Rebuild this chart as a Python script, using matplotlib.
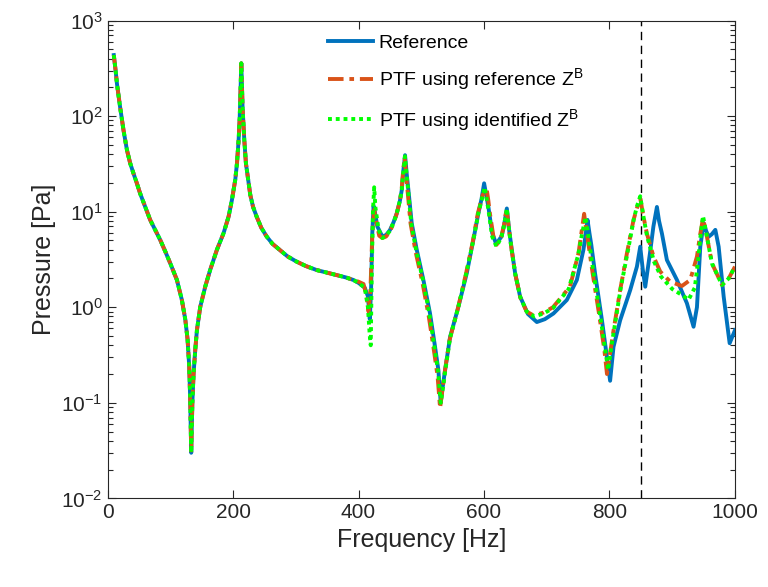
import matplotlib
matplotlib.use("Agg")
import matplotlib.pyplot as plt

# ── Estilo tipo MATLAB ────────────────────────────────────────────
plt.rcParams["font.family"] = ["Liberation Sans", "DejaVu Sans"]
plt.rcParams["mathtext.fontset"] = "custom"
plt.rcParams["mathtext.rm"] = "Liberation Sans"
plt.rcParams["mathtext.it"] = "Liberation Sans"

COLOR_REF = "#0072BD"
COLOR_PTF_REF = "#D95319"
COLOR_PTF_ID = "#00FF00"
AX_COLOR = "#262626"

# ── Datos ────────────────────────────────────────────────────────
# tramo común a las tres curvas (10-392 Hz)
common_freq = [10, 12.8, 15, 20, 25.5, 31, 36.2, 41.5, 46.8, 52, 60, 68, 76,
               84, 92, 100, 110.6, 118.5, 124, 127.6, 130.2, 131.8, 133.4,
               135.2, 137.2, 139.8, 142.5, 147.8, 155.8, 163.7, 174.4, 185,
               193, 198.3, 203.6, 206.3, 208.9, 210.5, 211.6, 213.2, 214.3,
               215.3, 218, 220.6, 224.9, 227.5, 232, 237.6, 245, 253.6, 263,
               274.8, 287, 301.4, 316, 333.3, 350, 365.2, 380, 391.7]
common_p = [435, 304, 219, 125, 71, 44, 32, 25, 19.8, 15.5, 11.3, 8.2, 6.46,
            5.06, 3.84, 2.88, 1.93, 1.19, 0.74, 0.46, 0.24, 0.107, 0.03,
            0.1, 0.204, 0.357, 0.578, 1.01, 1.65, 2.47, 4.0, 5.97,
            8.9, 13.3, 21.6, 32, 56, 90, 150, 357, 200,
            120, 56, 32, 20, 15, 11.2, 8.9, 6.8, 5.5, 4.6,
            3.97, 3.4, 3.0, 2.7, 2.45, 2.3, 2.17, 2.05, 1.93]

ref_freq = [400, 410, 415, 418, 420, 422, 424, 426, 430, 438, 444, 450, 456,
            461, 466, 469, 471.5, 474.2, 476.8, 479.5, 484.8, 492.8, 503.4,
            514, 522, 527.3, 531, 535, 538, 546, 559, 572.5, 583, 591, 596,
            600.2, 603.5, 607, 613, 619.3, 628, 632, 636.4, 640, 644.3,
            649.6, 657.6, 670, 684.2, 697, 710.7, 732, 748, 758.5, 762, 765,
            768, 771, 777, 788, 796, 801, 806.4, 817, 833, 843.7, 849, 853,
            857, 864.5, 870, 875.6, 879, 883.6, 891.5, 907.5, 923.4, 934,
            939.4, 944.7, 950, 954, 958, 963, 968.7, 974, 982, 991.5, 1000]
ref_p = [1.8, 1.6, 1.3, 0.75, 1.5, 6, 11.5, 10, 7, 5.5, 5.7, 6.4, 7.8,
         9.6, 13, 16.9, 27, 39, 25, 16.9, 7.6, 4.0, 1.93,
         0.86, 0.385, 0.22, 0.1, 0.16, 0.22, 0.49, 1.0, 2.26, 5.06, 9.6, 13.5,
         19.8, 15, 11.2, 6, 4.6, 5.5, 7.2, 10.8, 6.5, 4.0,
         2.27, 1.29, 0.85, 0.70, 0.75, 0.86, 1.19, 1.93, 4.0, 5.8, 8.2,
         6, 4.5, 2.26, 0.73, 0.30, 0.17, 0.385, 0.73, 1.51, 2.66, 4.3, 2.5,
         1.64, 3.67, 7, 11.2, 8, 5.9, 3.12, 1.93, 1.1, 0.625,
         1.0, 4.3, 7.6, 6.3, 5.47, 5.8, 6.45, 4.3, 1.29, 0.42, 0.575]

ptf_ref_freq = [400, 408, 413, 416, 419, 422, 425, 428, 433, 438, 444, 450,
                456, 461, 466, 469, 471, 473.5, 476, 478, 483, 491, 502, 512,
                520, 526, 530, 534, 537, 545, 558, 571, 582, 590, 594, 598,
                604.4, 607, 609, 615, 620, 628, 632, 636, 640, 644, 650, 658,
                668, 679, 695, 710, 737, 750.6, 756, 759.6, 763, 766, 773,
                784, 792, 796, 800, 806.4, 817, 827.8, 838.3, 844, 849, 854,
                859.6, 870.2, 880.9, 896.8, 915.5, 928.7, 939.4, 944, 949,
                952, 955.3, 963.3, 979.3, 990, 1000]
ptf_ref_p = [1.85, 1.75, 1.3, 0.9, 1.5, 6, 10.5, 8, 5.6, 5.3, 5.5, 6.2,
             7.6, 9.6, 13, 18, 26, 37, 24, 17, 7.5, 3.8, 1.8, 0.8,
             0.36, 0.19, 0.088, 0.14, 0.2, 0.45, 0.95, 2.2, 4.8, 9.5, 12, 15,
             17, 13, 10, 5.5, 4.5, 5.6, 7.3, 10.8, 6.4, 4.0, 2.2, 1.25,
             0.9, 0.82, 0.88, 1.0, 1.64, 3.67, 6.5, 9.5, 6.5, 4.8, 2.3,
             0.8, 0.35, 0.20, 0.3, 0.57, 1.51, 3.67, 8.2, 11, 13.8, 9,
             5.9, 3.39, 2.36, 1.85, 1.67, 1.93, 3.39, 5.5, 8.5,
             7, 5.47, 2.88, 1.71, 2.0, 2.66]

ptf_id_freq = [400, 410, 415, 418, 419.5, 421, 423, 425, 427, 432, 438, 444,
               450, 456, 461, 466, 469, 471.5, 474, 476.5, 479, 484, 492, 503,
               513, 521, 527, 531, 535, 538, 546, 559, 572, 583, 591, 596,
               601, 604, 607, 613, 620, 628, 632, 636.4, 640, 644, 650, 658,
               668, 680, 695, 710, 735, 750, 757, 762, 765, 768, 775, 786,
               794, 798, 802, 808, 818, 829, 839, 844, 849, 854, 860, 871,
               882, 900, 915, 926, 936, 941, 945, 949, 952, 955.3, 963.3,
               979.3, 990, 1000]
ptf_id_p = [1.8, 1.6, 1.0, 0.5, 0.4, 2, 10, 18, 11, 6.5, 5.3, 5.6,
            6.3, 7.7, 9.6, 13, 17, 26, 38, 25, 17, 7.6, 3.9, 1.9,
            0.85, 0.38, 0.21, 0.1, 0.15, 0.21, 0.48, 1.0, 2.3, 5.0, 9.6, 13,
            18, 14, 10.5, 5.5, 4.3, 5.5, 7.2, 10.8, 6.4, 4.0, 2.2, 1.27,
            0.9, 0.8, 0.86, 0.98, 1.55, 3.5, 6.2, 8.8, 6.3, 4.6, 2.2, 0.75,
            0.33, 0.22, 0.35, 0.62, 1.6, 3.8, 8.5, 11.5, 14.5, 9, 5.5, 3.0,
            2.1, 1.55, 1.35, 1.2, 1.6, 3.0, 5.5, 9.0, 7.2, 5.47, 2.88,
            1.71, 2.0, 2.66]

vline_freq = 850

# ── Figura ───────────────────────────────────────────────────────
fig = plt.figure(figsize=(7.68, 5.87), dpi=100)
ax = fig.add_axes([0.140, 0.151, 0.817, 0.814])

ax.plot(common_freq + ref_freq, common_p + ref_p, color=COLOR_REF,
        linewidth=2.8, label="Reference", zorder=3)
ax.plot(common_freq + ptf_ref_freq, common_p + ptf_ref_p,
        color=COLOR_PTF_REF, linewidth=2.8, linestyle=(0, (4, 1.5, 1.2, 1.5)),
        label=r"PTF using reference $\mathregular{Z^B}$", zorder=4)
ax.plot(common_freq + ptf_id_freq, common_p + ptf_id_p, color=COLOR_PTF_ID,
        linewidth=2.8, linestyle=(0, (1, 1)),
        label=r"PTF using identified $\mathregular{Z^B}$", zorder=5)

ax.axvline(vline_freq, color="black", linestyle=(0, (6, 4)), linewidth=1.0,
           zorder=2)

ax.set_yscale("log")
ax.set_xlim(0, 1000)
ax.set_ylim(1e-2, 1e3)
ax.set_xticks([0, 200, 400, 600, 800, 1000])
ax.set_yticks([1e-2, 1e-1, 1e0, 1e1, 1e2, 1e3])
ax.set_yticklabels([r"$\mathregular{10^{-2}}$", r"$\mathregular{10^{-1}}$",
                    r"$\mathregular{10^{0}}$", r"$\mathregular{10^{1}}$",
                    r"$\mathregular{10^{2}}$", r"$\mathregular{10^{3}}$"])

ax.tick_params(which="both", direction="in", top=True, right=True,
               colors=AX_COLOR, labelsize=15, width=0.8)
ax.tick_params(which="major", length=6)
ax.tick_params(which="minor", length=3.5)
for s in ax.spines.values():
    s.set_color(AX_COLOR)
    s.set_linewidth(0.8)

ax.set_xlabel("Frequency [Hz]", fontsize=18, color=AX_COLOR)
ax.set_ylabel("Pressure [Pa]", fontsize=18, color=AX_COLOR)

ax.legend(loc="upper left", bbox_to_anchor=(0.33, 1.0), frameon=False,
          fontsize=14, handlelength=2.3, handletextpad=0.3,
          labelspacing=0.75, borderaxespad=0.3)

fig.savefig("out.png", dpi=100)
